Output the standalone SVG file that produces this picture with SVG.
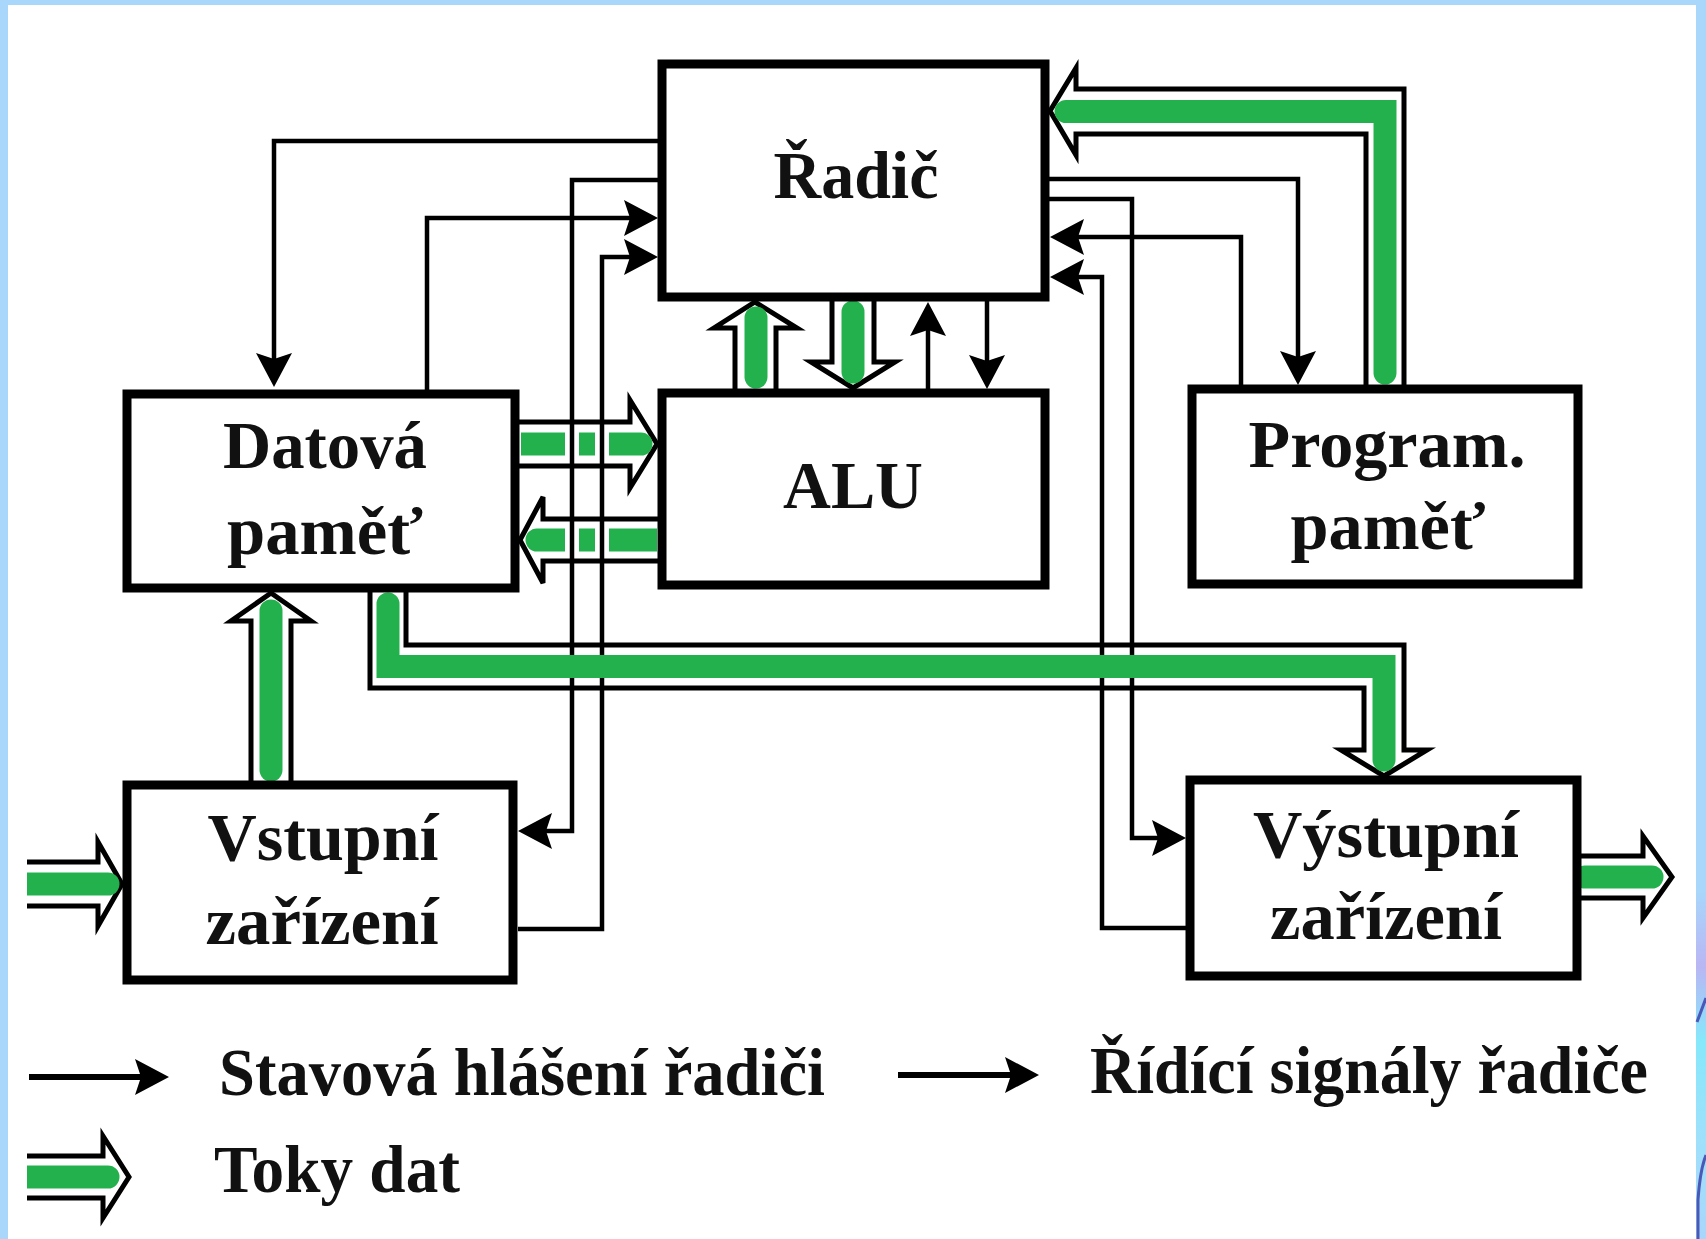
<svg xmlns="http://www.w3.org/2000/svg" width="1706" height="1239" viewBox="0 0 1706 1239">
<defs>
<style>
.box{fill:#fff;stroke:#000;stroke-width:9}
.t{font-family:"Liberation Serif","Times New Roman",serif;font-weight:bold;font-size:67px;fill:#111}
.ln{fill:none;stroke:#000;stroke-width:4.5;marker-end:url(#ah)}
.lg{fill:none;stroke:#000;stroke-width:6;marker-end:url(#ah)}
.da{fill:none;stroke:#000;stroke-width:5;stroke-linejoin:miter}
.g{fill:none;stroke:#22b14c;stroke-width:23;stroke-linecap:round;stroke-linejoin:miter}
.gb{fill:none;stroke:#22b14c;stroke-width:23;stroke-linecap:butt}
.gf{fill:#22b14c}
</style>
<marker id="ah" viewBox="-23 -19 36 38" refX="0" refY="0" markerWidth="36" markerHeight="38" markerUnits="userSpaceOnUse" orient="auto">
<path d="M12,0 L-22,-18 L-16,0 L-22,18 Z" fill="#000"/>
</marker>
<linearGradient id="rs" x1="0" y1="0" x2="0" y2="1">
<stop offset="0" stop-color="#a9d6fb"/>
<stop offset="0.72" stop-color="#a9d6fb"/>
<stop offset="0.78" stop-color="#b9b6f4"/>
<stop offset="0.84" stop-color="#86e8fb"/>
<stop offset="0.92" stop-color="#9fe0fb"/>
<stop offset="1" stop-color="#a9d6fb"/>
</linearGradient>
</defs>

<rect x="0" y="0" width="1706" height="1239" fill="#fff"/>
<rect x="0" y="0" width="1706" height="5" fill="#a9d6fb"/>
<rect x="0" y="0" width="8" height="1239" fill="#a9d6fb"/>
<rect x="1696" y="0" width="10" height="1239" fill="url(#rs)"/>
<path d="M1697,1022 L1706,998" stroke="#4a58b8" stroke-width="3" fill="none"/>
<path d="M1698,1239 L1698,1200 Q1700,1170 1706,1155" stroke="#4a58b8" stroke-width="3" fill="none"/>

<g id="connectors">
<path class="ln" d="M662,141 H274 V375"/>
<path class="ln" d="M662,180 H572 V831 H530"/>
<path class="ln" d="M427,394 V218 H646"/>
<path class="ln" d="M518,929 H602 V257 H646"/>
<path class="ln" d="M928,393 V314"/>
<path class="ln" d="M987,297 V377"/>
<path class="ln" d="M1045,179 H1298 V373"/>
<path class="ln" d="M1045,199 H1132 V838 H1174"/>
<path class="ln" d="M1241,389 V237 H1062"/>
<path class="ln" d="M1190,928 H1102 V277 H1062"/>

<path class="da" d="M519,422 H630 V400 L657,444 L630,488 V466 H519"/>
<path class="gb" d="M521,444 H565 M579,444 H595"/>
<path class="gf" d="M609,432.5 H641 A11.5,11.5 0 0 1 641,455.5 H609 Z"/>

<path class="da" d="M658,519 H543 V497 L520,540 L543,583 V561 H658"/>
<path class="gb" d="M657,540 H609 M595,540 H579"/>
<path class="gf" d="M565,528.5 H537 A11.5,11.5 0 0 0 537,551.5 H565 Z"/>

<path class="da" d="M735,389 V328 H714 L755,302 L797,328 H776 V389"/>
<path class="g" d="M756,377 V318"/>

<path class="da" d="M832,301 V362 H811 L853,388 L895,362 H874 V301"/>
<path class="g" d="M853,312 V372"/>

<path class="da" d="M251,781 V621 H231 L271,593 L311,621 H291 V781"/>
<path class="g" d="M271,770 V611"/>

<path class="da" d="M370,592 V688 H1364 V750 H1341 L1384,776 L1427,750 H1404 V645 H406 V592"/>
<path class="g" d="M388,604 V666.5 H1384 V760"/>

<path class="da" d="M1366,385 V134 H1076 V155 L1050,111 L1076,68 V89 H1404 V385"/>
<path class="g" d="M1385,373 V111.5 H1066"/>

<path class="da" d="M27,862 H98 V842 L122,884 L98,926 V906 H27"/>
<path class="gf" d="M27,872.5 H108 A11.5,11.5 0 0 1 108,895.5 H27 Z"/>

<path class="da" d="M1581,856 H1643 V836 L1672,877 L1643,918 V898 H1581"/>
<path class="g" d="M1585,877 H1652"/>
</g>

<g id="radic">
<rect class="box" x="662" y="64" width="383" height="233"/>
<text class="t" x="856" y="198" text-anchor="middle" textLength="165" lengthAdjust="spacingAndGlyphs">Řadič</text>
</g>
<g id="alu">
<rect class="box" x="662" y="393" width="383" height="192"/>
<text class="t" x="853" y="508" text-anchor="middle" textLength="140" lengthAdjust="spacingAndGlyphs">ALU</text>
</g>
<g id="datova-pamet">
<rect class="box" x="127" y="394" width="388" height="194"/>
<text class="t" x="325" y="468" text-anchor="middle" textLength="204" lengthAdjust="spacingAndGlyphs">Datová</text>
<text class="t" x="325" y="554" text-anchor="middle" textLength="196" lengthAdjust="spacingAndGlyphs">paměť</text>
</g>
<g id="program-pamet">
<rect class="box" x="1192" y="389" width="386" height="195"/>
<text class="t" x="1387" y="467" text-anchor="middle" textLength="277" lengthAdjust="spacingAndGlyphs">Program.</text>
<text class="t" x="1388" y="549" text-anchor="middle" textLength="195" lengthAdjust="spacingAndGlyphs">paměť</text>
</g>
<g id="vstupni">
<rect class="box" x="127" y="785" width="386" height="195"/>
<text class="t" x="323" y="860" text-anchor="middle" textLength="231" lengthAdjust="spacingAndGlyphs">Vstupní</text>
<text class="t" x="322" y="944" text-anchor="middle" textLength="233" lengthAdjust="spacingAndGlyphs">zařízení</text>
</g>
<g id="vystupni">
<rect class="box" x="1190" y="780" width="387" height="196"/>
<text class="t" x="1386" y="857" text-anchor="middle" textLength="266" lengthAdjust="spacingAndGlyphs">Výstupní</text>
<text class="t" x="1386" y="939" text-anchor="middle" textLength="232" lengthAdjust="spacingAndGlyphs">zařízení</text>
</g>

<g id="legend">
<path class="lg" d="M29,1077 H157"/>
<text class="t" x="219" y="1095" textLength="606" lengthAdjust="spacingAndGlyphs">Stavová hlášení řadiči</text>
<path class="lg" d="M898,1075 H1027"/>
<text class="t" x="1090" y="1093" textLength="558" lengthAdjust="spacingAndGlyphs">Řídící signály řadiče</text>
<path class="da" d="M27,1156 H103 V1136 L129,1177 L103,1218 V1198 H27"/>
<path class="gf" d="M27,1165.5 H108 A11.5,11.5 0 0 1 108,1188.5 H27 Z"/>
<text class="t" x="214" y="1192" textLength="246" lengthAdjust="spacingAndGlyphs">Toky dat</text>
</g>
</svg>
